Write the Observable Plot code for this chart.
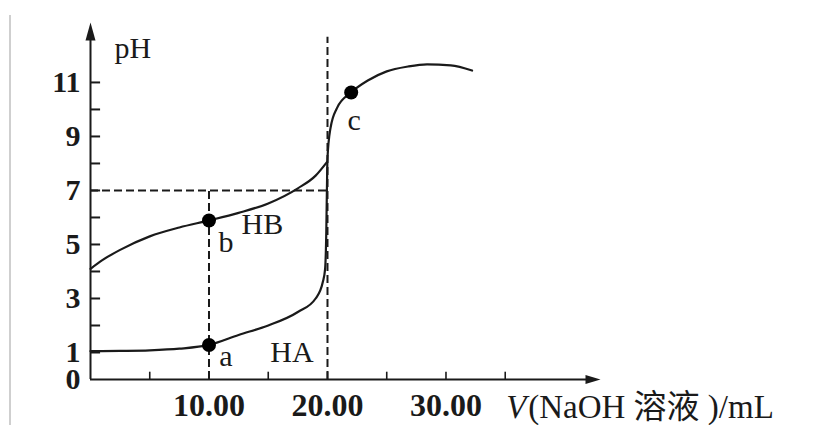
<!DOCTYPE html>
<html>
<head>
<meta charset="utf-8">
<script src="https://cdn.jsdelivr.net/npm/d3@7"></script>
<script src="https://cdn.jsdelivr.net/npm/@observablehq/plot@0.6"></script>
<style>
  html, body { margin: 0; padding: 0; background: #fff; }
  #wrap { position: relative; width: 837px; height: 425px; overflow: hidden; }
  #edge { position: absolute; left: 9px; top: 15px; width: 2px; height: 410px; background: #cfcfcf; }
  #chart { position: absolute; left: 0; top: 0; }
</style>
</head>
<body>
<div id="wrap"><div id="chart"></div><div id="edge"></div></div>
<script>
// ---- data ----
const haVolume = [0, 2.5, 5, 7.5, 10, 12.5, 15, 17.5, 19, 19.6, 19.8, 19.9, 19.95, 20.0, 20.25, 20.8, 22, 23.4, 25, 26.8, 28.4, 30.4, 32.2];
const haPH     = [1.05, 1.06, 1.08, 1.14, 1.28, 1.65, 2.0, 2.5, 3.0, 3.6, 4.1, 5.5, 7.0, 8.2, 9.3, 10.05, 10.63, 11.07, 11.41, 11.59, 11.67, 11.63, 11.44];
const hbVolume = [0, 1, 2.5, 5, 7.5, 10, 12.5, 15, 17.5, 19, 19.95];
const hbPH     = [4.1, 4.42, 4.8, 5.3, 5.63, 5.89, 6.17, 6.52, 7.08, 7.55, 8.05];
const pointNames  = ["a", "b", "c"];
const pointVolume = [10, 10, 22];
const pointPH     = [1.28, 5.89, 10.63];
const yTickLabels = [0, 1, 3, 5, 7, 9, 11];
const yTicks      = [1, 2, 3, 4, 5, 6, 7, 8, 9, 10, 11];
const xTickLabels = [10, 20, 30];
const xTicks      = [5, 10, 15, 20, 25, 30, 35];

const ha = haVolume.map((v, i) => ({v, ph: haPH[i]}));
const hb = hbVolume.map((v, i) => ({v, ph: hbPH[i]}));
const pts = pointNames.map((n, i) => ({n, v: pointVolume[i], ph: pointPH[i]}));

const ink = "#1a1a1a";
const serif = "'Liberation Serif', 'Noto Sans CJK SC', serif";

const arrowUp = { draw(ctx) { ctx.moveTo(0, 0); ctx.lineTo(5, 18); ctx.lineTo(-5, 18); ctx.closePath(); } };
const arrowRight = { draw(ctx) { ctx.moveTo(0, 0); ctx.lineTo(-15, -4.5); ctx.lineTo(-15, 4.5); ctx.closePath(); } };

const dash = {stroke: ink, strokeWidth: 2, strokeDasharray: "8,4"};

const chart = Plot.plot({
  width: 837, height: 425,
  marginLeft: 90, marginRight: 237, marginTop: 22, marginBottom: 46,
  x: {domain: [0, 43.04], axis: null},
  y: {domain: [0, 13.22], axis: null},
  style: {fontFamily: serif, background: "#fff", color: ink, overflow: "visible"},
  marks: [
    // dashed guides
    Plot.ruleY([7], {x1: 0, x2: 20, ...dash}),
    Plot.ruleX([10], {y1: 0, y2: 7, ...dash}),
    Plot.ruleX([20], {y1: 0, y2: 12.67, ...dash}),
    // axes
    Plot.ruleX([0], {y1: 0, y2: 12.9, stroke: ink, strokeWidth: 2}),
    Plot.ruleY([0], {x1: 0, x2: 42.5, stroke: ink, strokeWidth: 2}),
    Plot.dot([{v: 0, ph: 13.22}], {x: "v", y: "ph", symbol: arrowUp, fill: ink, stroke: "none"}),
    Plot.dot([{v: 43.04, ph: 0}], {x: "v", y: "ph", symbol: arrowRight, fill: ink, stroke: "none"}),
    Plot.ruleY(yTicks, {x1: 0, x2: 0.85, stroke: ink, strokeWidth: 2}),
    Plot.ruleX(xTicks, {y1: 0, y2: 0.27, stroke: ink, strokeWidth: 1.6}),
    Plot.axisY(yTickLabels, {label: null, tickSize: 0, tickPadding: 10, fontSize: 30, fontWeight: "bold", fill: ink}),
    Plot.axisX(xTickLabels, {label: null, tickSize: 0, tickPadding: 14, fontSize: 32, fontWeight: "bold", fill: ink, tickFormat: d => d.toFixed(2)}),
    // curves
    Plot.line(ha, {x: "v", y: "ph", curve: "monotone-x", stroke: ink, strokeWidth: 2.2}),
    Plot.line(hb, {x: "v", y: "ph", curve: "monotone-x", stroke: ink, strokeWidth: 2.2}),
    Plot.dot(pts, {x: "v", y: "ph", r: 7, fill: "#000", stroke: "none"}),
    // labels
    Plot.text([pts[0]], {x: "v", y: "ph", text: "n", dx: 17, dy: 11, fontSize: 30, fill: ink}),
    Plot.text([pts[1]], {x: "v", y: "ph", text: "n", dx: 17, dy: 22, fontSize: 30, fill: ink}),
    Plot.text([pts[2]], {x: "v", y: "ph", text: "n", dx: 3, dy: 28, fontSize: 30, fill: ink}),
    Plot.text(["HA"], {x: 17, y: 1.0, text: d => d, fontSize: 30, fill: ink}),
    Plot.text(["HB"], {x: 14.5, y: 5.74, text: d => d, fontSize: 30, fill: ink}),
    Plot.text(["pH"], {x: 0, y: 12.26, dx: 24, text: d => d, textAnchor: "start", fontSize: 30, fill: ink}),
    Plot.text(["V"], {x: 35, y: 0, dx: 1, dy: 28, text: d => d, textAnchor: "start", fontSize: 33, fontStyle: "italic", fill: ink}),
    Plot.text(["(NaOH 溶液 )/mL"], {x: 35, y: 0, dx: 23, dy: 28, text: d => d, textAnchor: "start", fontSize: 33, fill: ink})
  ]
});
document.getElementById("chart").appendChild(chart);
</script>
</body>
</html>
